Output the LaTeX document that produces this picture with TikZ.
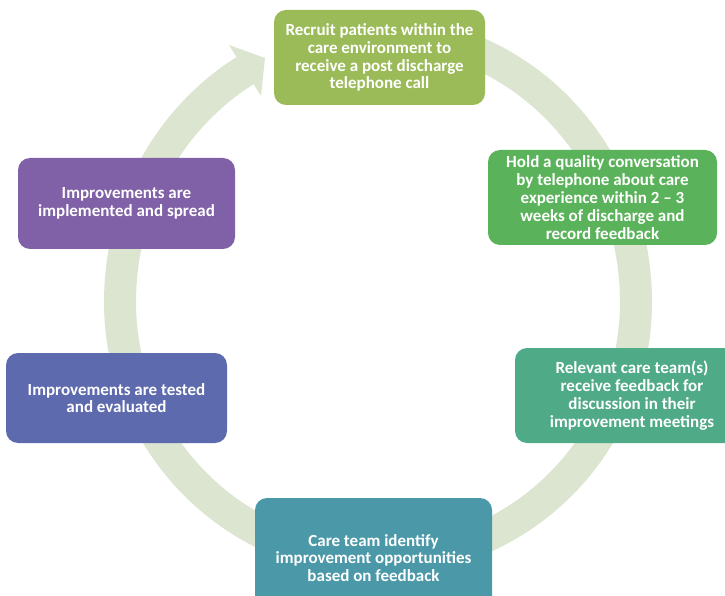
\documentclass[tikz,border=0pt]{standalone}
\usepackage{fontspec}
\setmainfont{Carlito}
\definecolor{ringc}{RGB}{220,229,208}
\definecolor{c1}{RGB}{155,187,89}
\definecolor{c2}{RGB}{90,178,90}
\definecolor{c3}{RGB}{79,170,136}
\definecolor{c4}{RGB}{74,152,168}
\definecolor{c5}{RGB}{128,96,166}
\definecolor{c6}{RGB}{94,106,174}
\tikzset{
  box/.style={rounded corners=12pt, inner sep=0pt, align=center, text=white,
    font=\bfseries\fontsize{17}{17.8}\selectfont},
}
\begin{document}
\begin{tikzpicture}[x=1pt,y=1pt]
\useasboundingbox (0,0) rectangle (725,595);
\coordinate (C) at (378,293);
% ring (cycle arrow)
\draw[ringc, line width=32pt] ([shift={(C)}]80:258pt and 270pt)
  arc[start angle=80, end angle=0, x radius=258pt, y radius=270pt]
  arc[start angle=0, end angle=-180, radius=258pt]
  arc[start angle=180, end angle=121, x radius=258pt, y radius=270pt];
\fill[ringc] ([shift={(C)}]-149,257) -- ([shift={(C)}]-113,244) -- ([shift={(C)}]-117,206) -- cycle;
% boxes
\node[box, fill=c1, minimum width=211pt, minimum height=95pt] (n1) at (379.5,537.5)
  {Recruit patients within the\\care environment to\\receive a post discharge\\telephone call};
\node[box, fill=c2, minimum width=229pt, minimum height=95pt] (n2) at (602.5,397.5)
  {Hold a quality conversation\\by telephone about care\\experience within 2 -- 3\\weeks of discharge and\\record feedback};
\node[box, fill=c3, minimum width=234pt, minimum height=95pt] (n3) at (632,199.5)
  {Relevant care team(s)\\receive feedback for\\discussion in their\\improvement meetings};
\node[box, fill=c4, minimum width=237pt, minimum height=120pt] (n4) at (373.5,37)
  {Care team identify\\improvement opportunities\\based on feedback};
\node[box, fill=c5, minimum width=217pt, minimum height=91pt] (n5) at (126.5,391.5)
  {Improvements are\\implemented and spread};
\node[box, fill=c6, minimum width=221pt, minimum height=90pt] (n6) at (116.5,197)
  {Improvements are tested\\and evaluated};
\end{tikzpicture}
\end{document}
